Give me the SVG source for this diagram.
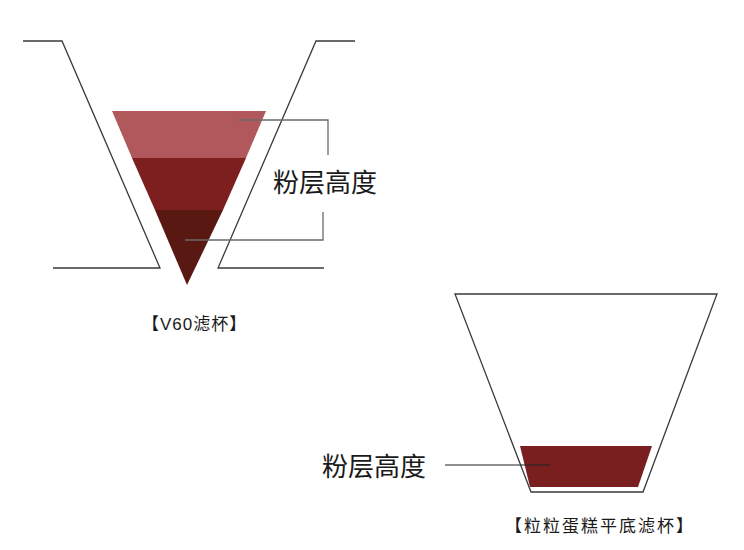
<svg xmlns="http://www.w3.org/2000/svg" width="744" height="550" viewBox="0 0 744 550">
<style>
.outline{fill:none;stroke:#3a3a3a;stroke-width:1.3}
.lead{fill:none;stroke:#6a6a6a;stroke-width:1.3}
.lbl{font-family:"Liberation Sans","Noto Sans CJK SC",sans-serif;fill:#1a1a1a}
.big{font-size:26px}
.small{font-size:17px}
</style>
<rect width="744" height="550" fill="#ffffff"/>
<g id="v60-dripper">
<polyline class="outline" points="23,41 62,41 160,268 53,268"/>
<polyline class="outline" points="355,41 316,41 218,268 324,268"/>
</g>
<g id="v60-powder">
<polygon points="112,111 266,111 246,158 132,158" fill="#b0585c"/>
<polygon points="132,158 246,158 223,210 155,210" fill="#7d1f1f"/>
<polygon points="155,210 223,210 187,285" fill="#5a1812"/>
</g>
<g id="flat-dripper">
<polygon class="outline" points="455,294 717,294 643,492 531,492"/>
</g>
<g id="flat-powder">
<polygon points="520,446 652,446 638,487 530,487" fill="#7a1f1f"/>
</g>
<g id="connectors">
<polyline class="lead" points="238,120 328,120 328,155"/>
<polyline class="lead" points="323,212 323,240 185,240"/>
<line x1="445" y1="465" x2="550" y2="465" stroke="#222" stroke-width="1.2"/>
</g>
<g id="label-v60-height"><text class="lbl big" x="273" y="192">粉层高度</text></g>
<g id="label-v60"><text class="lbl small" x="142" y="330" letter-spacing="1">【V60滤杯】</text></g>
<g id="label-flat-height"><text class="lbl big" x="322" y="476">粉层高度</text></g>
<g id="label-flat"><text class="lbl small" x="505" y="532" font-size="19" letter-spacing="2">【粒粒蛋糕平底滤杯】</text></g>
</svg>
